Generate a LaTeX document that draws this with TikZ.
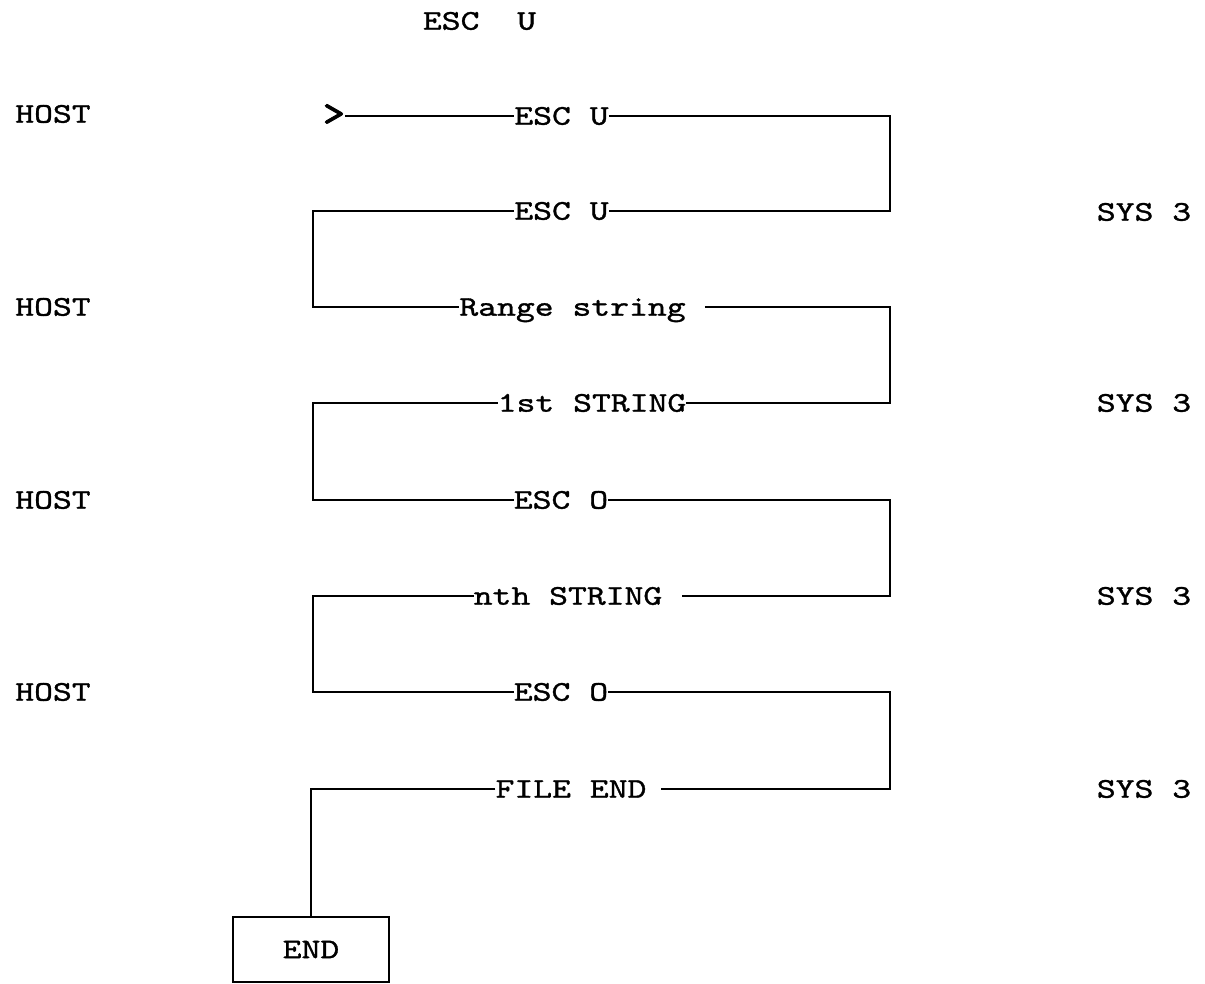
\documentclass[tikz,border=0pt]{standalone}
\usepackage{fontspec}
\newfontfamily\cour{lmmono10-regular.otf}[FakeStretch=1.26,FakeBold=1.2]
\newfontfamily\courgt{lmmono10-regular.otf}[FakeStretch=1.1,FakeBold=2.5]
\begin{document}
\begin{tikzpicture}[x=1pt,y=-1pt,
  lbl/.style={inner sep=0pt,font=\cour\fontsize{28.5}{34}\selectfont,text height=17.4pt,text depth=0pt},
  gtlbl/.style={inner sep=0pt,font=\courgt\fontsize{38}{44}\selectfont},
  wire/.style={line width=1.6pt,line join=miter},
  endbox/.style={draw,line width=1.6pt,minimum width=156pt,minimum height=65pt,inner sep=0pt,text height=17.4pt,text depth=0pt,font=\cour\fontsize{28.5}{34}\selectfont}]
\useasboundingbox[fill=white] (0,0) rectangle (1205,984);
% title
\node[lbl] (title) at (479.5,21) {ESC\ \ U};
% side labels
\node[lbl] (h1) at (53,114) {HOST};
\node[lbl] (h2) at (53,307) {HOST};
\node[lbl] (h3) at (53,500) {HOST};
\node[lbl] (h4) at (53,692) {HOST};
\node[lbl] (s1) at (1144,212) {SYS 3};
\node[lbl] (s2) at (1144,403) {SYS 3};
\node[lbl] (s3) at (1144,596) {SYS 3};
\node[lbl] (s4) at (1144,789) {SYS 3};
% row labels
\node[gtlbl] (gt) at (334,115) {>};
\node[lbl] (n1) at (561.5,116) {ESC U};
\node[lbl] (n2) at (561.5,211) {ESC U};
\node[lbl] (n3) at (572.5,307) {Range string};
\node[lbl] (n4) at (592,403) {1st STRING};
\node[lbl] (n5) at (561,500) {ESC O};
\node[lbl] (n6) at (568,596) {nth STRING};
\node[lbl] (n7) at (561,692) {ESC O};
\node[lbl] (n8) at (571,789) {FILE END};
\node[endbox] (end) at (311,949.5) {END};
% corners
\coordinate (g1) at (gt.east |- n1);
\coordinate (r1) at (890,116);
\coordinate (r2) at (890,211);
\coordinate (l2) at (313,211);
\coordinate (l3) at (313,307);
\coordinate (r3) at (890,307);
\coordinate (r4) at (890,403);
\coordinate (l4) at (313,403);
\coordinate (l5) at (313,500);
\coordinate (r5) at (890,500);
\coordinate (r6) at (890,596);
\coordinate (l6) at (313,596);
\coordinate (l7) at (313,692);
\coordinate (r7) at (890,692);
\coordinate (r8) at (890,789);
\coordinate (l8) at (end.north |- n8);
% connectors
\draw[wire] (g1) -- (n1.west);
\draw[wire] (n1.east) -- (r1) -- (r2) -- (n2.east);
\draw[wire] (n2.west) -- (l2) -- (l3) -- (n3.west);
\draw[wire] ([xshift=19pt]n3.east) -- (r3) -- (r4) -- (n4.east);
\draw[wire] (n4.west) -- (l4) -- (l5) -- (n5.west);
\draw[wire] (n5.east) -- (r5) -- (r6) -- ([xshift=20pt]n6.east);
\draw[wire] (n6.west) -- (l6) -- (l7) -- (n7.west);
\draw[wire] (n7.east) -- (r7) -- (r8) -- ([xshift=14pt]n8.east);
\draw[wire] (n8.west) -- (l8) -- (end.north);
\end{tikzpicture}
\end{document}
